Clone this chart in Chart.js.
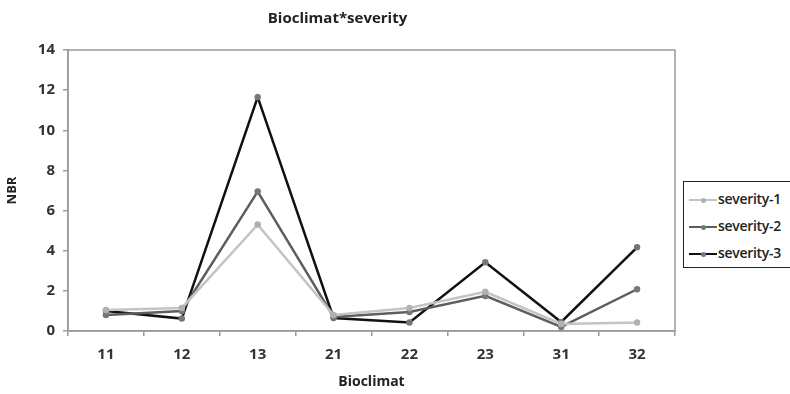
<!DOCTYPE html>
<html>
<head>
<meta charset="utf-8">
<script src="https://cdn.jsdelivr.net/npm/chart.js@4"></script>
<style>
    html, body { margin: 0; padding: 0; background: #fff; }
    #wrap { position: relative; width: 790px; height: 394px; }
    #legend {
        position: absolute; left: 683px; top: 181px; width: 120px; height: 87px;
        border: 1.5px solid #222; background: #fff; box-sizing: border-box;
        font-family: "Open Sans", sans-serif; font-weight: 600; font-size: 14px;
        letter-spacing: -0.3px; color: #222;
    }
    .item { position: absolute; left: 5px; height: 20px; line-height: 20px; white-space: nowrap; }
    .swatch { display: inline-block; width: 28px; height: 0; vertical-align: middle; margin-right: 1px; position: relative; }
    .swatch i { position: absolute; left: 12px; top: -3px; width: 5px; height: 5px; border-radius: 50%; }
</style>
</head>
<body>
<div id="wrap">
    <canvas id="chart" width="790" height="394"></canvas>
    <div id="legend"></div>
</div>
<script>
const categories = ['11', '12', '13', '21', '22', '23', '31', '32'];
const severity1 = [1.05, 1.15, 5.3, 0.8, 1.15, 1.95, 0.35, 0.42];
const severity2 = [0.8, 1.0, 6.95, 0.7, 0.95, 1.75, 0.2, 2.08];
const severity3 = [1.0, 0.62, 11.65, 0.65, 0.42, 3.42, 0.45, 4.17];
const seriesNames = ['severity-1', 'severity-2', 'severity-3'];
const lineColors = ['#c4c4c4', '#5e5e5e', '#111111'];
const pointColors = ['#b0b0b0', '#777777', '#777777'];

const font = "'Open Sans', sans-serif";

// plot area frame (Excel style)
const frame = {
    id: 'frame',
    beforeDatasetsDraw(chart) {
        const a = chart.chartArea;
        const ctx = chart.ctx;
        ctx.save();
        ctx.strokeStyle = '#9a9a9a';
        ctx.lineWidth = 1.5;
        ctx.strokeRect(a.left, a.top, a.right - a.left, a.bottom - a.top);
        ctx.restore();
    }
};

const datasets = [severity1, severity2, severity3].map((vals, i) => ({
    label: seriesNames[i],
    data: vals,
    borderColor: lineColors[i],
    backgroundColor: pointColors[i],
    pointBackgroundColor: pointColors[i],
    pointBorderColor: pointColors[i],
    pointRadius: 2,
    borderWidth: 2.5,
    tension: 0,
    fill: false
}));

new Chart(document.getElementById('chart').getContext('2d'), {
    type: 'line',
    data: { labels: categories, datasets: datasets },
    options: {
        responsive: false,
        animation: false,
        layout: { padding: { left: 0, right: 115, top: 0, bottom: 0 } },
        plugins: {
            legend: { display: false },
            tooltip: { enabled: false },
            title: {
                display: true,
                text: 'Bioclimat*severity',
                color: '#222',
                font: { family: font, size: 15, weight: 'bold' },
                padding: { top: 10, bottom: 22 }
            }
        },
        scales: {
            x: {
                offset: true,
                grid: { offset: true, drawOnChartArea: false, tickLength: 5, color: '#9a9a9a', lineWidth: 1.5 },
                border: { color: '#9a9a9a', width: 1.5 },
                ticks: { color: '#333', font: { family: font, size: 15, weight: 'bold' }, padding: 10 },
                title: {
                    display: true, text: 'Bioclimat', color: '#222',
                    font: { family: font, size: 14, weight: 'bold' }, padding: { top: 7 }
                },
                afterFit(scale) { scale.height = 63; }
            },
            y: {
                min: 0,
                max: 14,
                ticks: { stepSize: 2, color: '#333', font: { family: font, size: 15, weight: 'bold' }, padding: 8 },
                grid: { drawOnChartArea: false, tickLength: 5, color: '#9a9a9a', lineWidth: 1.5 },
                border: { color: '#9a9a9a', width: 1.5 },
                title: {
                    display: true, text: 'NBR', color: '#222',
                    font: { family: font, size: 13, weight: 'bold' }, padding: { bottom: 12 }
                },
                afterFit(scale) { scale.width = 68; }
            }
        }
    },
    plugins: [frame]
});

// legend box
const legend = document.getElementById('legend');
seriesNames.forEach((name, i) => {
    const row = document.createElement('div');
    row.className = 'item';
    row.style.top = (7 + i * 27) + 'px';
    const sw = document.createElement('span');
    sw.className = 'swatch';
    sw.style.borderTop = '2.5px solid ' + lineColors[i];
    const dot = document.createElement('i');
    dot.style.background = pointColors[i];
    sw.appendChild(dot);
    row.appendChild(sw);
    row.appendChild(document.createTextNode(name));
    legend.appendChild(row);
});
</script>
</body>
</html>
